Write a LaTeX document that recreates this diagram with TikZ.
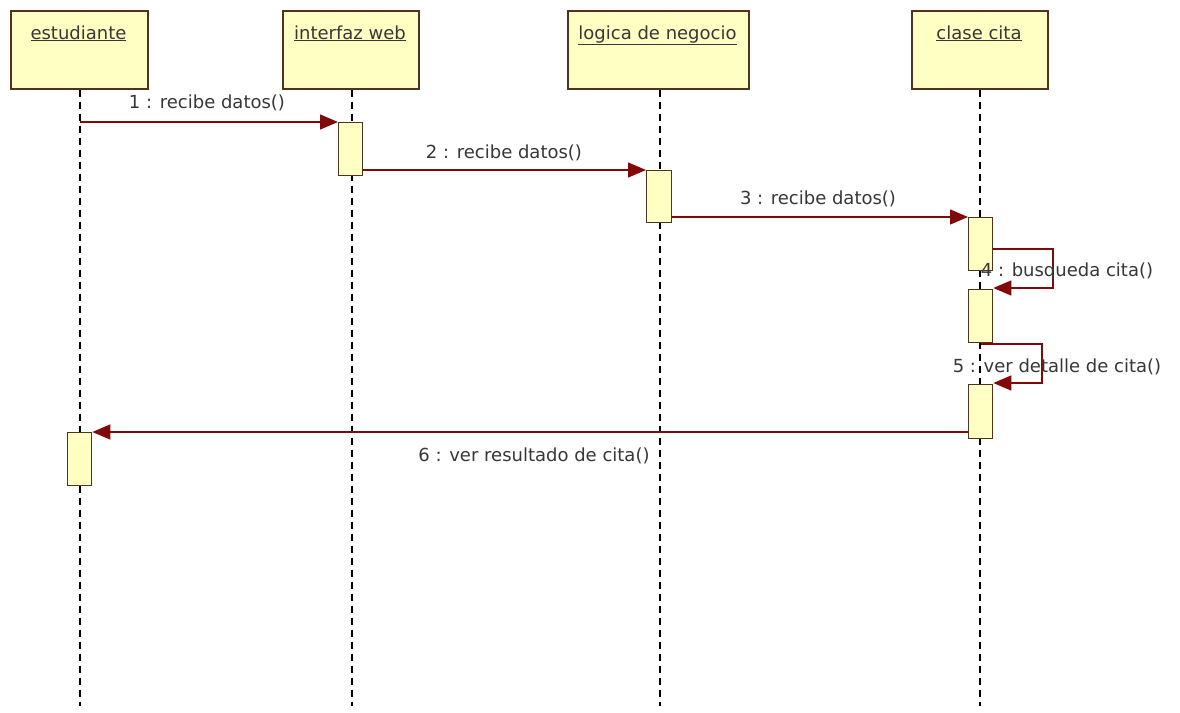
\documentclass[tikz,border=0pt]{standalone}
\usepackage{fontspec}
\setmainfont{DejaVu Sans}
\usetikzlibrary{arrows.meta}
\definecolor{headfill}{RGB}{255,255,196}
\definecolor{boxdraw}{RGB}{80,50,30}
\definecolor{msgcol}{RGB}{128,10,10}
\definecolor{txt}{RGB}{55,55,55}
\begin{document}
\begin{tikzpicture}[x=1pt,y=-1pt,
  headbox/.style={draw=boxdraw, fill=headfill, line width=1.6pt, inner sep=0pt, anchor=north west},
  headtext/.style={text=txt, inner sep=0pt, anchor=base, font=\fontsize{18}{22}\selectfont},
  actbox/.style={draw=boxdraw, fill=headfill, line width=1.3pt, inner sep=0pt, anchor=north west, minimum width=24pt},
  lifeline/.style={draw=black, line width=1.8pt, dash pattern=on 7pt off 5pt},
  msg/.style={draw=msgcol, line width=1.4pt, -{Triangle[length=18pt,width=15pt]}, msgcol},
  msglabel/.style={text=txt, inner sep=0pt, font=\fontsize{18}{22}\selectfont}
]
\useasboundingbox[fill=white] (0,0) rectangle (1180,712);

% heads
\node[headbox, minimum width=137pt, minimum height=78pt] (h1) at (10,10) {};
\node[headbox, minimum width=136pt, minimum height=78pt] (h2) at (282,10) {};
\node[headbox, minimum width=181pt, minimum height=78pt] (h3) at (567,10) {};
\node[headbox, minimum width=136pt, minimum height=78pt] (h4) at (911,10) {};
\node[headtext] (t1) at (78.5,39) {\underline{estudiante}};
\node[headtext] (t2) at (350,39) {\underline{interfaz web}};
\node[headtext] (t3) at (657.5,39) {\underline{logica de negocio}};
\node[headtext] (t4) at (979,39) {\underline{clase cita}};

% lifeline ends
\coordinate (e1) at (80,706);
\coordinate (e2) at (352,706);
\coordinate (e3) at (660,706);
\coordinate (e4) at (980,706);
\draw[lifeline] (h1.south -| e1) -- (e1);
\draw[lifeline] (h2.south -| e2) -- (e2);
\draw[lifeline] (h3.south -| e3) -- (e3);
\draw[lifeline] (h4.south -| e4) -- (e4);

% activations
\node[actbox, minimum height=53pt] (aiw) at (338,122) {};
\node[actbox, minimum width=25pt, minimum height=52pt] (aln) at (646,170) {};
\node[actbox, minimum height=53pt] (acc1) at (968,217) {};
\node[actbox, minimum height=53pt] (acc2) at (968,289) {};
\node[actbox, minimum height=54pt] (acc3) at (968,384) {};
\node[actbox, minimum height=53pt] (aest) at (67,432) {};

% messages
\coordinate (s1) at (80,122);
\draw[msg] (s1) -- (aiw.north west);
\draw[msg] (aiw.east |- aln.north) -- (aln.north west);
\draw[msg] (aln.east |- acc1.north) -- (acc1.north west);
\coordinate (c4) at (1053,249);
\coordinate (c4b) at (1053,288);
\draw[msg] (acc1.east |- c4) -- (c4) -- (c4b) -- (acc2.east |- c4b);
\coordinate (c5) at (1042,344);
\coordinate (c5b) at (1042,383);
\draw[msg] (acc2.south |- c5) -- (c5) -- (c5b) -- (acc3.east |- c5b);
\coordinate (s6) at (968,432);
\draw[msg] (s6) -- (aest.north east);

% labels
\node[msglabel] (l1) at (207,103) {1 : recibe datos()};
\node[msglabel] (l2) at (504,153) {2 : recibe datos()};
\node[msglabel] (l3) at (818,199) {3 : recibe datos()};
\node[msglabel] (l4) at (1067,272) {4 : busqueda cita()};
\node[msglabel] (l5) at (1057,367) {5 : ver detalle de cita()};
\node[msglabel] (l6) at (534,456) {6 : ver resultado de cita()};
\end{tikzpicture}
\end{document}
